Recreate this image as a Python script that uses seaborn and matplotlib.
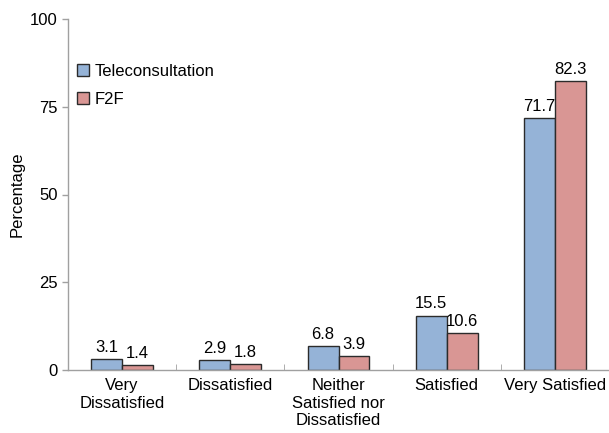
import matplotlib
matplotlib.use("Agg")
import matplotlib.pyplot as plt
import pandas as pd
import seaborn as sns

categories = [
    "Very\nDissatisfied",
    "Dissatisfied",
    "Neither\nSatisfied nor\nDissatisfied",
    "Satisfied",
    "Very Satisfied",
]
groups = ["Teleconsultation", "F2F"]
tele_values = [3.1, 2.9, 6.8, 15.5, 71.7]
f2f_values = [1.4, 1.8, 3.9, 10.6, 82.3]
y_ticks = [0, 25, 50, 75, 100]
colors = ["#95b3d7", "#d99694"]

df = pd.DataFrame({
    "category": categories * 2,
    "group": [groups[0]] * len(categories) + [groups[1]] * len(categories),
    "value": tele_values + f2f_values,
})

sns.set_style("white")
plt.rcParams["font.family"] = ["Liberation Sans", "DejaVu Sans"]
plt.rcParams["text.color"] = "black"
plt.rcParams["axes.labelcolor"] = "black"
plt.rcParams["xtick.color"] = "black"
plt.rcParams["ytick.color"] = "black"

fig = plt.figure(figsize=(6.09, 4.33), dpi=100)
ax = fig.add_axes([68 / 609, 63 / 433, 541 / 609, 351 / 433])

sns.barplot(
    data=df, x="category", y="value", hue="group",
    order=categories, hue_order=groups, palette=colors,
    width=0.57, edgecolor="#2b2b2b", linewidth=1.0,
    saturation=1, ax=ax,
)

for container in ax.containers:
    ax.bar_label(container, fmt="%.1f", padding=3, fontsize=12, color="black")

ax.set_xlim(-0.5, 4.5)
ax.set_ylim(0, 100)
ax.set_yticks(y_ticks)
ax.set_xlabel("")
ax.set_ylabel("Percentage", fontsize=12, labelpad=4)
ax.tick_params(axis="y", labelsize=12, length=4, color="#a0a0a0", left=True, width=1)
ax.tick_params(axis="y", labelcolor="black")
ax.tick_params(axis="x", labelsize=12, length=0, pad=6, labelcolor="black")
ax.set_xticks([0.5, 1.5, 2.5, 3.5], minor=True)
ax.tick_params(axis="x", which="minor", direction="in", length=4, color="#a0a0a0", bottom=True)

for side in ["top", "right"]:
    ax.spines[side].set_visible(False)
for side in ["left", "bottom"]:
    ax.spines[side].set_color("#a0a0a0")
    ax.spines[side].set_linewidth(1.0)

ax.legend(
    frameon=False, loc="upper left", bbox_to_anchor=(-0.005, 0.905),
    fontsize=12, handlelength=0.75, handleheight=0.75,
    handletextpad=0.3, labelspacing=0.75, borderaxespad=0.3,
)

fig.savefig("out.png", dpi=100)
